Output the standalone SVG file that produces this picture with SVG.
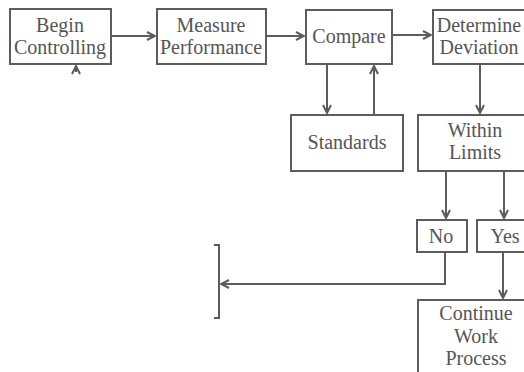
<svg xmlns="http://www.w3.org/2000/svg" width="524" height="372" viewBox="0 0 524 372">
<defs>
<style>
.box{fill:none;stroke:#5c5c5c;stroke-width:2}
.ln{fill:none;stroke:#5c5c5c;stroke-width:2}
text{font-family:"Liberation Serif","Times New Roman",serif;font-size:20px;fill:#555;text-anchor:middle}
</style>
<marker id="ah" viewBox="0 0 10 10" refX="9" refY="5" markerWidth="10" markerHeight="10" markerUnits="userSpaceOnUse" orient="auto">
<path d="M1,1 L9,5 L1,9" fill="none" stroke="#5c5c5c" stroke-width="2"/>
</marker>
</defs>
<rect width="524" height="372" fill="#fff"/>
<g id="begin"><rect class="box" x="10" y="9" width="101" height="55"/><text x="60" y="32">Begin</text><text x="60" y="54">Controlling</text></g>
<g id="measure"><rect class="box" x="157" y="9" width="109" height="55"/><text x="211" y="32">Measure</text><text x="211" y="54">Performance</text></g>
<g id="compare"><rect class="box" x="306" y="10" width="86" height="54"/><text x="349" y="43">Compare</text></g>
<g id="determine"><rect class="box" x="433" y="10" width="100" height="54"/><text x="479" y="32">Determine</text><text x="479" y="54">Deviation</text></g>
<g id="standards"><rect class="box" x="291" y="115" width="112" height="56"/><text x="347" y="149">Standards</text></g>
<g id="within"><rect class="box" x="418" y="115" width="115" height="56"/><text x="475" y="137">Within</text><text x="475" y="159">Limits</text></g>
<g id="no"><rect class="box" x="417" y="220" width="50" height="32"/><text x="441" y="243">No</text></g>
<g id="yes"><rect class="box" x="477" y="220" width="56" height="32"/><text x="505" y="243">Yes</text></g>
<g id="continue"><rect class="box" x="418" y="300" width="115" height="80"/><text x="476" y="320">Continue</text><text x="476" y="343">Work</text><text x="476" y="365">Process</text></g>
<g id="bracket"><path class="ln" d="M214,245 H219 V318 H214"/></g>
<g id="connectors">
<line class="ln" x1="111" y1="36" x2="155" y2="36" marker-end="url(#ah)"/>
<line class="ln" x1="266" y1="36" x2="304" y2="36" marker-end="url(#ah)"/>
<line class="ln" x1="392" y1="35" x2="431" y2="35" marker-end="url(#ah)"/>
<line class="ln" x1="327" y1="64" x2="327" y2="113" marker-end="url(#ah)"/>
<line class="ln" x1="374" y1="115" x2="374" y2="66" marker-end="url(#ah)"/>
<line class="ln" x1="480" y1="64" x2="480" y2="113" marker-end="url(#ah)"/>
<line class="ln" x1="446" y1="171" x2="446" y2="218" marker-end="url(#ah)"/>
<line class="ln" x1="504" y1="171" x2="504" y2="218" marker-end="url(#ah)"/>
<polyline class="ln" points="445,252 445,284 221,284" marker-end="url(#ah)"/>
<line class="ln" x1="503" y1="252" x2="503" y2="298" marker-end="url(#ah)"/>
<line class="ln" x1="76" y1="72" x2="76" y2="66" marker-end="url(#ah)"/>
</g>
</svg>
